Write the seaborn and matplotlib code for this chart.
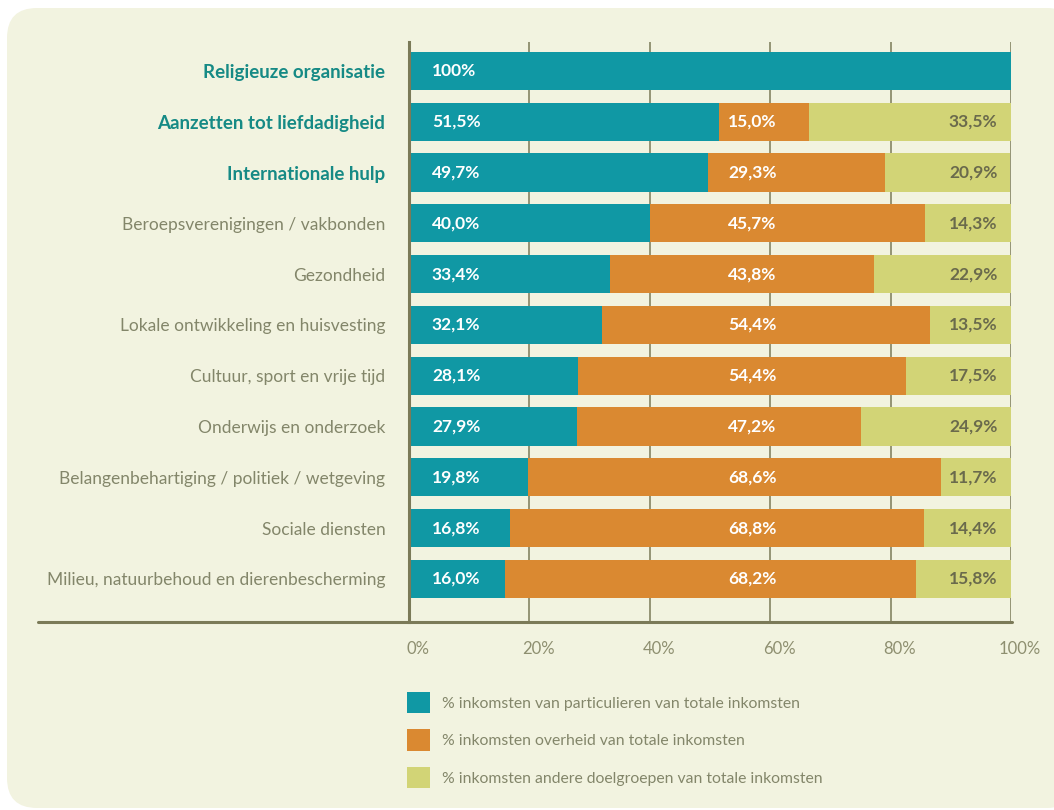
import matplotlib
matplotlib.use("Agg")
import matplotlib.pyplot as plt
import matplotlib.transforms as mtransforms
from matplotlib.patches import FancyBboxPatch, Patch
from matplotlib.lines import Line2D
import numpy as np
import seaborn as sns

categories = [
    "Religieuze organisatie",
    "Aanzetten tot liefdadigheid",
    "Internationale hulp",
    "Beroepsverenigingen / vakbonden",
    "Gezondheid",
    "Lokale ontwikkeling en huisvesting",
    "Cultuur, sport en vrije tijd",
    "Onderwijs en onderzoek",
    "Belangenbehartiging / politiek / wetgeving",
    "Sociale diensten",
    "Milieu, natuurbehoud en dierenbescherming",
]
bold_categories = ["Religieuze organisatie", "Aanzetten tot liefdadigheid", "Internationale hulp"]
particulieren = [100.0, 51.5, 49.7, 40.0, 33.4, 32.1, 28.1, 27.9, 19.8, 16.8, 16.0]
overheid = [0.0, 15.0, 29.3, 45.7, 43.8, 54.4, 54.4, 47.2, 68.6, 68.8, 68.2]
andere = [0.0, 33.5, 20.9, 14.3, 22.9, 13.5, 17.5, 24.9, 11.7, 14.4, 15.8]
series_names = [
    "% inkomsten van particulieren van totale inkomsten",
    "% inkomsten overheid van totale inkomsten",
    "% inkomsten andere doelgroepen van totale inkomsten",
]
xticks = [0, 20, 40, 60, 80, 100]
xtick_labels = ["0%", "20%", "40%", "60%", "80%", "100%"]

TEAL = "#1098a4"
ORANGE = "#da8931"
YELLOW = "#d2d476"
PANEL = "#f2f3e0"
OLIVE = "#7b7a58"
LABEL_GRAY = "#83866a"
BOLD_TEAL = "#168a85"
DARK_VAL = "#6a6a4c"

sns.set_theme(style="white")
plt.rcParams["font.family"] = ["Lato", "DejaVu Sans"]

fig = plt.figure(figsize=(10.54, 8.10), dpi=100, facecolor="white")

panel = FancyBboxPatch((0.07, 0.02), 10.7, 8.0,
                       boxstyle="round,pad=0,rounding_size=0.3",
                       transform=fig.dpi_scale_trans, facecolor=PANEL,
                       edgecolor="none", zorder=-10)
fig.patches.append(panel)

ax = fig.add_axes([409 / 1054, 1 - 622 / 810, (1011 - 409) / 1054, (622 - 42) / 810])
ax.set_facecolor("none")

p = np.array(particulieren)
o = np.array(overheid)
a = np.array(andere)
cum3 = p + o + a
cum2 = p + o

for vals, col in [(cum3, YELLOW), (cum2, ORANGE), (p, TEAL)]:
    sns.barplot(x=vals, y=categories, orient="h", color=col, width=0.75,
                saturation=1, ax=ax, zorder=3, linewidth=0)

for xv in [20, 40, 60, 80, 100]:
    ax.axvline(xv, color=OLIVE, lw=1.1, zorder=1)

ax.set_xlim(0, 100)
ax.set_ylim(10.85, -0.57)

for s in ["top", "right", "bottom"]:
    ax.spines[s].set_visible(False)
ax.spines["left"].set_color(OLIVE)
ax.spines["left"].set_linewidth(2.2)
ax.spines["left"].set_zorder(5)

# extended bottom axis line
fig.add_artist(Line2D([38 / 1054, 1012 / 1054], [1 - 622 / 810, 1 - 622 / 810],
                      transform=fig.transFigure, color=OLIVE, lw=2.2))

ax.set_xticks(xticks)
ax.set_xticklabels(xtick_labels, fontsize=12, color="#8e8f70")
ax.tick_params(axis="x", length=0, pad=14)
offset = mtransforms.ScaledTranslation(9 / 100, 0, fig.dpi_scale_trans)
for lab in ax.get_xticklabels():
    lab.set_transform(lab.get_transform() + offset)

ax.tick_params(axis="y", length=0, pad=17)
ax.set_ylabel("")
ax.set_xlabel("")
for lab in ax.get_yticklabels():
    t = lab.get_text()
    if t in bold_categories:
        lab.set_color(BOLD_TEAL)
        lab.set_fontweight("bold")
        lab.set_fontsize(13.5)
    else:
        lab.set_color(LABEL_GRAY)
        lab.set_fontsize(12.5)

def fmt(v):
    if v == 100:
        return "100%"
    return f"{v:.1f}".replace(".", ",") + "%"

for i in range(len(categories)):
    if p[i] > 0:
        ax.text(3.8, i, fmt(p[i]), ha="left", va="center", color="white",
                fontsize=12.5, fontweight="bold", zorder=6)
    if o[i] > 0:
        ax.text(57.0, i, fmt(o[i]), ha="center", va="center", color="white",
                fontsize=12.5, fontweight="bold", zorder=6)
    if a[i] > 0:
        ax.text(93.7, i, fmt(a[i]), ha="center", va="center", color=DARK_VAL,
                fontsize=12.5, fontweight="bold", zorder=6)

handles = [Patch(facecolor=c, edgecolor="none") for c in [TEAL, ORANGE, YELLOW]]
leg = fig.legend(handles, series_names, loc="upper left",
                 bbox_to_anchor=(407 / 1054, 1 - 692 / 810),
                 frameon=False, fontsize=11.3, handlelength=1.45, handleheight=1.72,
                 handletextpad=0.75, labelspacing=1.02, borderpad=0, borderaxespad=0)
for t in leg.get_texts():
    t.set_color(LABEL_GRAY)

fig.savefig("out.png", dpi=100, facecolor="white")
